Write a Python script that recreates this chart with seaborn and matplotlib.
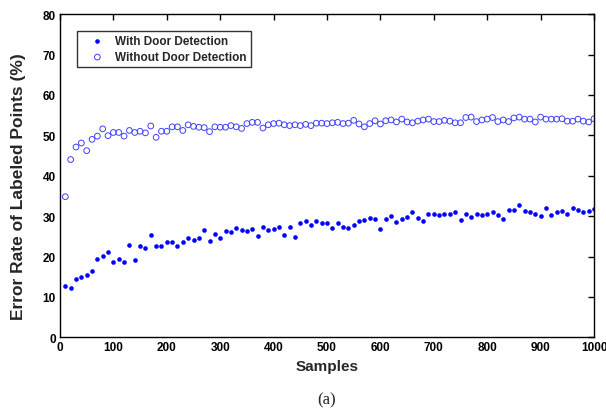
import numpy as np
import pandas as pd
import matplotlib
matplotlib.use('Agg')
import matplotlib.pyplot as plt
import seaborn as sns

# Data (samples 10..1000, step 10)
samples = list(range(10, 1001, 10))

with_door = [
    12.8, 12.2, 14.4, 14.9, 15.4, 16.4, 19.5, 20.1, 21.0, 18.6,
    19.5, 18.6, 22.8, 19.1, 22.7, 22.1, 25.4, 22.5, 22.5, 23.6,
    23.6, 22.7, 23.6, 24.5, 24.1, 24.7, 26.5, 23.8, 25.5, 24.5,
    26.2, 26.1, 27.0, 26.5, 26.3, 26.8, 25.0, 27.2, 26.6, 26.8,
    27.4, 25.2, 27.4, 24.9, 28.3, 28.7, 27.9, 28.8, 28.4, 28.4,
    27.0, 28.4, 27.4, 27.0, 27.9, 28.8, 29.0, 29.6, 29.2, 26.8,
    29.4, 30.1, 28.6, 29.4, 29.8, 31.1, 29.5, 28.8, 30.4, 30.6,
    30.2, 30.4, 30.4, 31.0, 29.0, 30.6, 29.7, 30.6, 30.2, 30.4,
    31.0, 30.2, 29.2, 31.6, 31.6, 32.8, 31.2, 31.0, 30.6, 30.1,
    31.9, 30.2, 31.0, 31.2, 30.4, 32.1, 31.6, 31.0, 31.3, 31.7,
]

without_door = [
    34.8, 44.0, 47.1, 48.1, 46.2, 49.0, 49.8, 51.6, 49.9, 50.7,
    50.7, 49.8, 51.2, 50.7, 51.0, 50.6, 52.3, 49.5, 51.0, 51.0,
    52.1, 52.1, 51.2, 52.6, 52.2, 52.0, 51.9, 50.9, 52.1, 52.0,
    52.0, 52.4, 52.1, 51.7, 52.9, 53.2, 53.2, 51.8, 52.6, 52.9,
    53.0, 52.6, 52.4, 52.6, 52.4, 52.7, 52.4, 53.0, 53.0, 52.9,
    53.1, 53.2, 52.9, 53.0, 53.7, 52.8, 52.1, 52.9, 53.6, 52.8,
    53.6, 53.8, 53.3, 54.0, 53.3, 53.1, 53.5, 53.8, 54.0, 53.4,
    53.4, 53.7, 53.5, 53.1, 53.1, 54.4, 54.5, 53.4, 53.8, 54.0,
    54.4, 53.4, 53.8, 53.4, 54.3, 54.5, 54.0, 54.0, 53.3, 54.5,
    54.0, 54.0, 54.0, 54.1, 53.5, 53.5, 54.0, 53.5, 53.3, 54.1,
]

x_ticks = list(range(0, 1001, 100))
y_ticks = list(range(0, 81, 10))

df = pd.DataFrame({'samples': samples, 'with': with_door, 'without': without_door})

sns.set_style('white')
plt.rcParams['font.family'] = ['Liberation Sans', 'DejaVu Sans']

fig = plt.figure(figsize=(6.06, 4.14), dpi=100)
ax = fig.add_axes([60 / 606, 1 - 338.3 / 414, 534 / 606, 323.2 / 414])

sns.scatterplot(data=df, x='samples', y='with', ax=ax, marker='o', s=8,
                color='#0000ff', edgecolor='#0000ff', linewidth=0.4,
                label='With Door Detection')
sns.scatterplot(data=df, x='samples', y='without', ax=ax, marker='o', s=17,
                facecolors='none', edgecolor='#4040ff', linewidth=0.7,
                label='Without Door Detection')

ax.set_xlim(0, 1000)
ax.set_ylim(0, 80)
ax.set_xticks(x_ticks)
ax.set_yticks(y_ticks)
ax.tick_params(direction='in', length=4, width=1, top=True, right=True,
               labelsize=8.5, colors='black', pad=3)
for lbl in ax.get_xticklabels() + ax.get_yticklabels():
    lbl.set_fontweight('bold')
for sp in ax.spines.values():
    sp.set_color('black')
    sp.set_linewidth(1.0)

ax.set_xlabel('Samples', fontsize=11, fontweight='bold', labelpad=4)
ax.set_ylabel('Error Rate of Labeled Points (%)', fontsize=12.5, fontweight='bold')
ax.yaxis.set_label_coords(-0.064, 0.47)

leg = ax.legend(loc='upper left', bbox_to_anchor=(16.7 / 534, 1 - 16.8 / 323.2),
                frameon=True, fancybox=False, edgecolor='black',
                prop={'weight': 'bold', 'size': 8.5}, handletextpad=0.1,
                borderpad=0.35, labelspacing=0.35, handlelength=2.8,
                borderaxespad=0)
leg.get_frame().set_linewidth(1.0)

fig.text(327 / 606, 1 - 400 / 414, '(a)', ha='center', va='center',
         fontsize=12, family=['Liberation Serif', 'DejaVu Serif'])

fig.savefig('out.png', dpi=100)
